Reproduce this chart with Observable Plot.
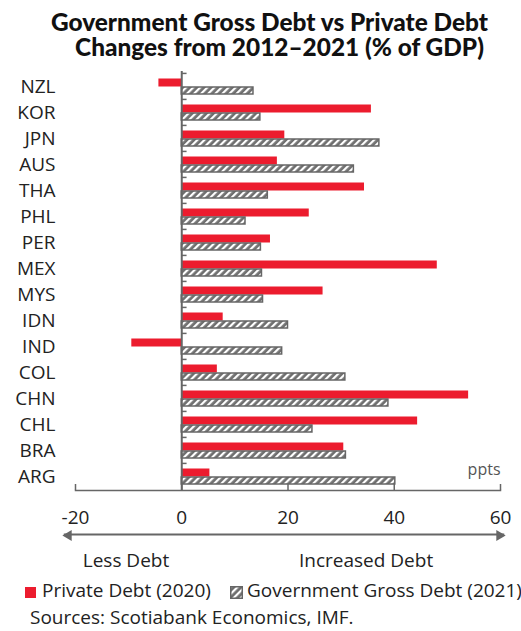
<!DOCTYPE html>
<html><head><meta charset="utf-8">
<script src="https://cdn.jsdelivr.net/npm/d3@7"></script>
<script src="https://cdn.jsdelivr.net/npm/@observablehq/plot@0.6"></script>
<style>
body{margin:0;background:#fff;}
#wrap{position:relative;width:521px;height:631px;overflow:hidden;font-family:"Open Sans",sans-serif;color:#222;}
.title{position:absolute;width:521px;text-align:center;font-family:Lato,sans-serif;font-weight:900;font-size:24.4px;line-height:24px;color:#111;white-space:nowrap;}
#chart{position:absolute;left:0;top:60px;}
.lg{position:absolute;font-size:19px;line-height:24px;white-space:nowrap;}
.sw{position:absolute;}
</style></head>
<body><div id="wrap">
<div class="title" style="top:10px;left:9px">Government Gross Debt vs Private Debt</div>
<div class="title" style="top:35px;left:19px">Changes from 2012–2021 (% of GDP)</div>
<div id="chart"></div>
<div class="sw" style="left:25px;top:587px;width:11px;height:11px;background:#ec1c2e"></div>
<div class="lg" style="left:42px;top:578px">Private Debt (2020)</div>
<svg class="sw" style="left:230px;top:586px" width="13" height="13"><defs><pattern id="hatchL" patternUnits="userSpaceOnUse" width="5" height="5" patternTransform="rotate(45)"><rect width="5" height="5" fill="#6f6f6f"/><rect width="2.2" height="5" fill="#fff"/></pattern></defs><rect x="0.75" y="0.75" width="11.5" height="11.5" fill="url(#hatchL)" stroke="#666" stroke-width="1.5"/></svg>
<div class="lg" style="left:247px;top:578px">Government Gross Debt (2021)</div>
<div class="lg" style="left:30px;top:605px">Sources: Scotiabank Economics, IMF.</div>
</div>
<script>
const countries = ["NZL","KOR","JPN","AUS","THA","PHL","PER","MEX","MYS","IDN","IND","COL","CHN","CHL","BRA","ARG"];
const privateDebt = [-4.3,35.7,19.4,18.0,34.4,24.0,16.7,48.1,26.6,7.8,-9.4,6.7,54.0,44.4,30.5,5.3];
const govDebt = [13.5,14.8,37.2,32.4,16.2,12.0,14.9,15.1,15.3,20.0,18.9,30.8,38.9,24.6,30.9,40.2];
const xTicks = [-20,0,20,40,60];
const xDomain = [-20,60];
const unitLabel = [{text:"ppts", x:60}];
const directionLabels = [{text:"Less Debt", x:-10.5},{text:"Increased Debt", x:34.7}];
const arrowSpan = [{x1:-22.2, x2:60.7}];
const arrowHeads = [{x:-21.3, rotate:-90},{x:59.8, rotate:90}];

const RED = "#ec1c2e", GREY = "#666";
const rows = countries.map((c,i)=>({country:c, priv:privateDebt[i], gov:govDebt[i]}));

const W = 521, H = 515, mT = 11, mB = 85;
const band = (H - mT - mB) / countries.length;

const chart = Plot.plot({
  width: W, height: H,
  marginLeft: 75, marginRight: 21, marginTop: mT, marginBottom: mB,
  style: {fontFamily: "'Open Sans', sans-serif", fontSize: "19px", color: "#222", background: "#fff"},
  x: {domain: xDomain, label: null},
  y: {domain: countries, padding: 0, label: null},
  marks: [
    Plot.barX(rows, {y: "country", x: "priv", fill: RED, insetTop: 5.5, insetBottom: 12.5}),
    Plot.barX(rows, {y: "country", x: "gov", fill: "url(#hatch)", stroke: GREY, strokeWidth: 1.5, insetTop: 14, insetBottom: 5}),
    Plot.ruleX([0], {stroke: GREY, strokeWidth: 2}),
    Plot.ruleY(countries, {y: d => d, x1: 0, x2: 1, dy: -band/2, stroke: GREY, strokeWidth: 1.5}),
    Plot.frame({anchor: "bottom", stroke: GREY, strokeWidth: 1.5}),
    Plot.axisX(xTicks, {tickSize: -6, tickPadding: 26, tickFormat: d => String(d), stroke: GREY, strokeWidth: 1.5, fill: "#222", fontSize: 19, label: null}),
    Plot.axisY({tickSize: 0, tickPadding: 20, fill: "#222", fontSize: 19, label: null}),
    Plot.text(unitLabel, {x: "x", text: "text", frameAnchor: "bottom", textAnchor: "end", lineAnchor: "middle", dy: -20.5, fill: "#555", fontSize: 16}),
    Plot.link(arrowSpan, {x1: "x1", x2: "x2", y1: () => "ARG", y2: () => "ARG", dy: (H - mB + 45) - (H - mB - band/2), stroke: GREY, strokeWidth: 2}),
    Plot.dot(arrowHeads, {x: "x", frameAnchor: "bottom", dy: 45, symbol: "triangle", r: 4, fill: GREY, stroke: null, rotate: "rotate"}),
    Plot.text(directionLabels, {x: "x", text: "text", frameAnchor: "bottom", lineAnchor: "middle", dy: 70, fill: "#222", fontSize: 19})
  ]
});
const defs = d3.create("svg:defs");
const pat = defs.append("pattern").attr("id","hatch").attr("patternUnits","userSpaceOnUse")
  .attr("width",5).attr("height",5).attr("patternTransform","rotate(45)");
pat.append("rect").attr("width",5).attr("height",5).attr("fill","#6f6f6f");
pat.append("rect").attr("width",2.2).attr("height",5).attr("fill","#fff");
chart.insertBefore(defs.node(), chart.firstChild);
document.getElementById("chart").appendChild(chart);
</script>
</body></html>
